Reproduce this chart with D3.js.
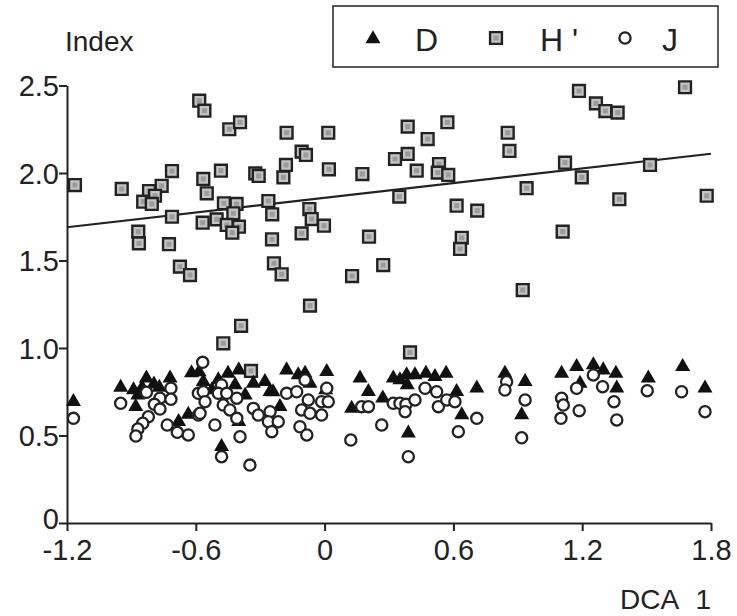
<!DOCTYPE html>
<html><head><meta charset="utf-8">
<script src="https://cdn.jsdelivr.net/npm/d3@7"></script>
<style>
html,body{margin:0;padding:0;background:#fff;}
svg text{font-family:"Liberation Sans",Arial,Helvetica,sans-serif;fill:#222;}
</style></head>
<body>
<svg id="chart" width="737" height="616"></svg>
<script>
// ---- data (x = DCA 1 score, y = index value) ----
const xTicks = [-1.2, -0.6, 0, 0.6, 1.2, 1.8];
const xTickLabels = ["-1.2", "-0.6", "0", "0.6", "1.2", "1.8"];
const yTicks = [0, 0.5, 1.0, 1.5, 2.0, 2.5];
const yTickLabels = ["0", "0.5", "1.0", "1.5", "2.0", "2.5"];
const seriesNames = ["D", "H '", "J"];

// H' (Shannon diversity)
const hX = [-1.163,-0.945,-0.818,-0.759,-0.711,-0.79,-0.845,-0.805,-0.711,-0.868,-0.865,-0.725,-0.674,-0.627,
  -0.584,-0.56,-0.444,-0.394,-0.565,-0.549,-0.483,-0.323,-0.307,-0.177,-0.18,-0.192,-0.469,-0.41,-0.425,-0.503,
  -0.568,-0.456,-0.399,-0.43,-0.262,-0.244,-0.245,-0.236,-0.2,-0.389,-0.472,-0.343,
  0.017,0.387,0.572,0.48,-0.107,-0.087,0.02,0.176,0.328,0.387,0.429,0.533,0.527,0.576,0.348,-0.071,-0.06,-0.003,
  -0.107,0.207,0.615,0.711,0.639,0.631,0.273,0.128,-0.068,0.398,
  1.185,1.264,1.308,1.365,1.679,0.853,0.861,1.12,1.198,1.516,0.941,1.373,1.78,1.109,0.923];
const hY = [1.931,1.909,1.897,1.927,2.011,1.870,1.836,1.823,1.750,1.665,1.598,1.593,1.465,1.417,
  2.413,2.356,2.250,2.290,1.966,1.884,2.013,1.998,1.983,2.230,2.046,1.975,1.827,1.823,1.770,1.735,
  1.716,1.703,1.693,1.659,1.840,1.764,1.621,1.484,1.421,1.127,1.027,0.869,
  2.230,2.265,2.290,2.194,2.122,2.103,2.021,1.994,2.080,2.109,2.013,2.051,2.002,1.989,1.865,1.794,1.737,1.699,
  1.655,1.636,1.813,1.785,1.630,1.566,1.474,1.411,1.242,0.975,
  2.469,2.398,2.354,2.345,2.490,2.230,2.126,2.059,1.975,2.046,1.913,1.850,1.870,1.665,1.331];

// D (dominance)
const dX = [-1.17,-0.95,-0.83,-0.85,-0.87,-0.77,-0.72,-0.88,-0.795,-0.68,-0.635,-0.585,-0.565,-0.495,-0.45,-0.40,
  -0.417,-0.332,-0.278,-0.254,-0.208,-0.177,-0.123,-0.091,-0.068,0.010,-0.40,-0.48,0.165,0.204,0.126,0.271,
  0.320,0.351,0.382,0.421,0.472,0.514,0.566,0.385,0.615,0.39,0.709,0.639,0.84,0.934,0.918,1.104,1.174,1.19,
  1.252,1.298,1.357,1.361,1.508,1.668,1.772,-0.24,0.005,-0.525,-0.37,-0.89,-0.62];
const dY = [0.693,0.775,0.827,0.773,0.731,0.775,0.827,0.665,0.793,0.579,0.621,0.863,0.807,0.817,0.855,0.874,
  0.789,0.798,0.807,0.750,0.665,0.874,0.846,0.855,0.798,0.865,0.579,0.436,0.827,0.750,0.655,0.713,
  0.827,0.817,0.846,0.846,0.855,0.836,0.855,0.789,0.750,0.513,0.770,0.617,0.855,0.807,0.617,0.855,0.893,0.798,
  0.903,0.874,0.855,0.770,0.827,0.893,0.770,0.749,0.76,0.76,0.731,0.76,0.857];

// J (evenness)
const jX = [-1.17,-0.95,-0.83,-0.767,-0.716,-0.716,-0.793,-0.767,-0.821,-0.847,-0.87,-0.879,-0.733,-0.686,-0.635,
  -0.588,-0.588,-0.568,-0.565,-0.557,-0.58,-0.48,-0.495,-0.456,-0.409,-0.472,-0.441,-0.409,-0.511,-0.394,-0.48,
  -0.348,-0.332,-0.309,-0.254,-0.262,-0.246,-0.216,-0.177,-0.13,-0.091,-0.076,-0.107,-0.068,-0.014,-0.014,-0.115,
  -0.083,0.01,0.017,0.173,0.204,0.266,0.122,0.320,0.351,0.379,0.421,0.375,0.468,0.522,0.53,0.569,0.607,0.39,
  0.623,0.709,0.848,0.84,0.934,0.918,1.104,1.112,1.101,1.174,1.186,1.252,1.295,1.348,1.361,1.503,1.663,1.772];
const jY = [0.598,0.684,0.747,0.713,0.770,0.707,0.678,0.651,0.607,0.570,0.537,0.497,0.560,0.518,0.503,
  0.741,0.617,0.918,0.750,0.693,0.627,0.789,0.741,0.741,0.713,0.674,0.646,0.598,0.560,0.493,0.379,
  0.331,0.655,0.617,0.636,0.579,0.522,0.579,0.741,0.750,0.817,0.703,0.646,0.627,0.617,0.693,0.550,
  0.503,0.770,0.693,0.665,0.665,0.560,0.474,0.684,0.684,0.678,0.703,0.636,0.770,0.750,0.665,0.703,0.693,0.379,
  0.522,0.598,0.807,0.760,0.703,0.487,0.713,0.674,0.598,0.770,0.642,0.846,0.779,0.693,0.589,0.756,0.750,0.636];

// fitted regression line of H' on DCA 1
const trendX = [-1.2, 1.8];
const trendY = [1.69, 2.11];

// ---- drawing ----
const svg = d3.select("#chart");
const x = d3.scaleLinear().domain([-1.2, 1.8]).range([67, 711]);
const y = d3.scaleLinear().domain([0, 2.5]).range([523, 85.5]);
const ink = "#222";

// axes
const xAxis = svg.append("g").attr("transform", "translate(0,523)")
  .call(d3.axisBottom(x).tickValues(xTicks).tickSize(8).tickSizeOuter(0).tickFormat((d,i)=>xTickLabels[i]));
const yAxis = svg.append("g").attr("transform", "translate(67,0)")
  .call(d3.axisLeft(y).tickValues(yTicks).tickSize(8).tickSizeOuter(0).tickFormat((d,i)=>yTickLabels[i]));
[xAxis, yAxis].forEach(g => {
  g.select(".domain").attr("stroke", ink).attr("stroke-width", 2);
  g.selectAll(".tick line").attr("stroke", ink).attr("stroke-width", 2);
  g.selectAll(".tick text").attr("font-size", 29).attr("fill", ink)
    .attr("font-family", '"Liberation Sans",Arial,sans-serif');
});
xAxis.selectAll(".tick text").attr("y", 14).attr("dy", "0.8em");
yAxis.selectAll(".tick text").attr("x", -8).attr("dy", "0.36em");
yAxis.selectAll(".tick text").filter(d => d === 0).attr("dy", "0.2em");

// axis titles
svg.append("text").attr("x", 65).attr("y", 51).attr("font-size", 28).text("Index");
svg.append("text").attr("x", 711).attr("y", 609).attr("font-size", 28).attr("text-anchor", "end")
  .attr("word-spacing", 10).text("DCA  1");

// trend line
svg.append("line")
  .attr("x1", x(trendX[0])).attr("y1", y(trendY[0]))
  .attr("x2", x(trendX[1])).attr("y2", y(trendY[1]))
  .attr("stroke", ink).attr("stroke-width", 2.2);

const sq = d3.symbol().type(d3.symbolSquare).size(140);
const tri = d3.symbol().type(d3.symbolTriangle).size(98);

function drawSquare(g, px, py) {
  g.append("path").attr("d", sq()).attr("transform", `translate(${px},${py})`)
    .attr("fill", "#c4c4c4").attr("stroke", ink).attr("stroke-width", 2.4);
  g.append("rect").attr("x", px - 2.5).attr("y", py - 2.5).attr("width", 5).attr("height", 5)
    .attr("fill", "#8a8a8a").attr("opacity", 0.7);
}
function drawTri(g, px, py) {
  g.append("path").attr("d", tri()).attr("transform", `translate(${px},${py})`).attr("fill", "#111");
}
function drawCirc(g, px, py) {
  g.append("circle").attr("cx", px).attr("cy", py).attr("r", 5.6)
    .attr("fill", "#fff").attr("stroke", ink).attr("stroke-width", 2.3);
}

const gH = svg.append("g"), gD = svg.append("g"), gJ = svg.append("g");
hX.forEach((v, i) => drawSquare(gH, x(v), y(hY[i])));
dX.forEach((v, i) => drawTri(gD, x(v), y(dY[i])));
jX.forEach((v, i) => drawCirc(gJ, x(v), y(jY[i])));

// legend
const lg = svg.append("g");
lg.append("rect").attr("x", 333).attr("y", 6).attr("width", 385).attr("height", 61)
  .attr("fill", "none").attr("stroke", ink).attr("stroke-width", 1.5);
drawTri(lg, 373, 39);
lg.append("text").attr("x", 415).attr("y", 51).attr("font-size", 32).text(seriesNames[0]);
drawSquare(lg, 496, 38);
lg.append("text").attr("x", 540).attr("y", 51).attr("font-size", 32).text(seriesNames[1]);
drawCirc(lg, 625, 38);
lg.append("text").attr("x", 662).attr("y", 51).attr("font-size", 32).text(seriesNames[2]);
</script>
</body></html>
